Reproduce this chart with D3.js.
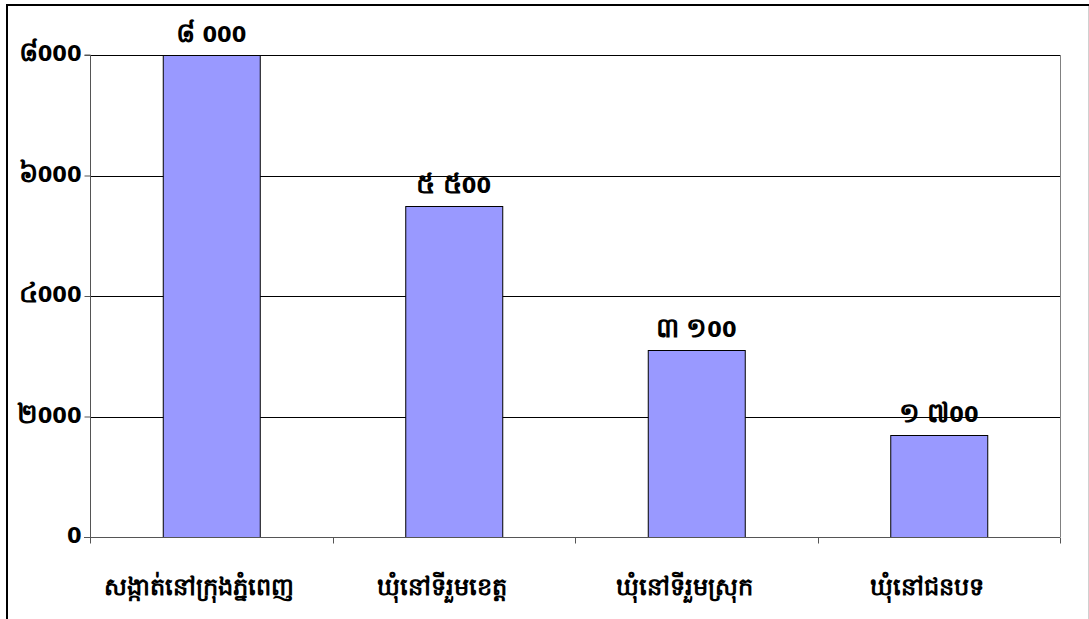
<!DOCTYPE html>
<html><head><meta charset="utf-8">
<script src="https://cdn.jsdelivr.net/npm/d3@7"></script>
<style>body{margin:0;background:#fff}svg{display:block}text{font-family:"DejaVu Sans","Noto Sans",sans-serif;font-weight:bold}</style>
</head><body><svg id="c" width="1089" height="619"></svg>
<script>
const categories = ["សង្កាត់នៅក្រុងភ្នំពេញ","ឃុំនៅទីរួមខេត្ត","ឃុំនៅទីរួមស្រុក","ឃុំនៅជនបទ"];
const values = [8000, 5500, 3100, 1700];
const valueLabels = ["៨ 000","៥ ៥00","៣ ១00","១ ៧00"];
const tickValues = [0, 2000, 4000, 6000, 8000];
const tickLabels = ["0","២000","៤000","៦000","៨000"];

const svg = d3.select("#c");
const L = 90, R = 1060, T = 55, B = 537;
// outer frame
svg.append("line").attr("x1",7).attr("x2",7).attr("y1",4).attr("y2",619).attr("stroke","#000").attr("stroke-width",2);
svg.append("line").attr("x1",6).attr("x2",1089).attr("y1",5).attr("y2",5).attr("stroke","#000").attr("stroke-width",2);
svg.append("line").attr("x1",1088.5).attr("x2",1088.5).attr("y1",6).attr("y2",619).attr("stroke","#d0d0d0").attr("stroke-width",1);

const x = d3.scaleBand().domain(categories).range([L,R]).paddingInner(0.6).paddingOuter(0.3);
const y = d3.scaleLinear().domain([0,8000]).range([B,T]);

// render a label, enlarging Khmer digits
function fillMixed(sel, str, size) {
  sel.text(null);
  const parts = str.match(/[\u17E0-\u17E9]+|[^\u17E0-\u17E9]+/g) || [];
  parts.forEach(p => {
    const k = /[\u17E0-\u17E9]/.test(p);
    sel.append("tspan").attr("font-size", k ? size*1.3 : size).text(p);
  });
}

// gridlines
svg.append("g").selectAll("line").data(tickValues.filter(d=>d>0)).join("line")
  .attr("x1",L).attr("x2",R).attr("y1",d=>Math.round(y(d))+0.5).attr("y2",d=>Math.round(y(d))+0.5)
  .attr("stroke","#000").attr("stroke-width",1);
// right plot border
svg.append("line").attr("x1",R+0.5).attr("x2",R+0.5).attr("y1",T).attr("y2",B).attr("stroke","#808080");

// bars
svg.append("g").selectAll("rect").data(values).join("rect")
  .attr("x",(d,i)=>x(categories[i])+0.5).attr("width",x.bandwidth())
  .attr("y",d=>Math.round(y(d))+0.5).attr("height",d=>B-Math.round(y(d)))
  .attr("fill","#9999ff").attr("stroke","#000").attr("stroke-width",1);

// y axis
const ya = d3.axisLeft(y).tickValues(tickValues).tickSize(6).tickPadding(3).tickFormat((d,i)=>tickLabels[i]);
const gy = svg.append("g").attr("transform",`translate(${L+0.5},0)`).call(ya);
gy.select(".domain").attr("stroke","#555").attr("d",`M-6,${T}H0V${B+6}`);
gy.selectAll(".tick line").attr("stroke","#555");
gy.attr("font-family",null).attr("font-size",null);
gy.selectAll(".tick text").attr("fill","#000").attr("dy","0.36em").each(function(d,i){ fillMixed(d3.select(this), tickLabels[i], 21); });

// x axis
const xb = d3.scaleLinear().domain([0,4]).range([L,R]);
const gx = svg.append("g").attr("transform",`translate(0,${B+0.5})`);
gx.append("line").attr("x1",L-6).attr("x2",R).attr("stroke","#555");
gx.selectAll(".xt").data(d3.range(5)).join("line").attr("class","xt")
  .attr("x1",d=>Math.round(xb(d))+0.5).attr("x2",d=>Math.round(xb(d))+0.5).attr("y1",0).attr("y2",6).attr("stroke","#555");
gx.selectAll("text").data(categories).join("text")
  .attr("x",d=>x(d)+x.bandwidth()/2).attr("dx",-12).attr("y",57).attr("text-anchor","middle")
  .attr("font-size",24).attr("fill","#000").text(d=>d);

// value labels
svg.append("g").selectAll("text").data(values).join("text")
  .attr("x",(d,i)=>x(categories[i])+x.bandwidth()/2).attr("y",d=>y(d)-13)
  .attr("text-anchor","middle").attr("fill","#000")
  .each(function(d,i){ fillMixed(d3.select(this), valueLabels[i], 21); });
</script></body></html>
